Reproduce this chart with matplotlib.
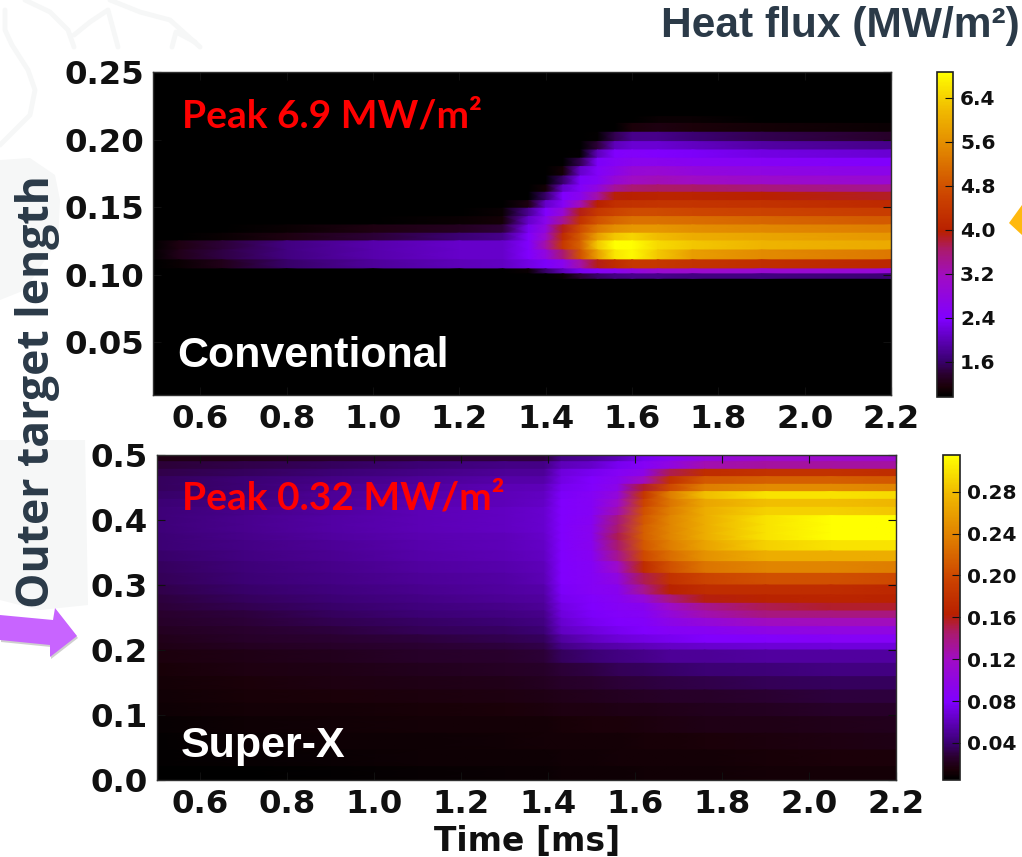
import numpy as np
import matplotlib
matplotlib.use("Agg")
import matplotlib.pyplot as plt
from matplotlib.colors import LinearSegmentedColormap, Normalize
from matplotlib.patches import Polygon

W, H = 1022, 857

# ---------- data ----------
top_times = [.49, .55, .65, .8, 1.0, 1.2, 1.3, 1.36, 1.40, 1.44, 1.48, 1.52, 1.56, 1.60, 1.66, 1.74, 1.9, 2.2]
top_edges = [.217, .212, .2054, .1985, .1923, .1862, .18, .173, .1664, .161, .1548, .1492, .143, .1368,
             .1307, .125, .1183, .111, .1043, .1006, .0974]
top_flux = [
 [.9,.9,.9,.9,.9,.9,.9,.9,.9,.9,.9,.9,.9,.9,1.05,1.03,.9,.9],
 [.9,.9,.9,.9,.9,.9,.9,.9,.9,.9,.9,.9,.95,1.15,1.2,1.15,1.1,1.05],
 [.9,.9,.9,.9,.9,.9,.9,.9,.9,.9,.9,1.0,1.5,1.75,1.75,1.65,1.5,1.35],
 [.9,.9,.9,.9,.9,.9,.9,.9,.9,.9,.9,1.4,2.0,2.15,2.15,2.05,1.9,1.75],
 [.9,.9,.9,.9,.9,.9,.9,.9,.9,.9,1.0,2.0,2.4,2.45,2.4,2.35,2.25,2.15],
 [.9,.9,.9,.9,.9,.9,.9,.9,.9,.9,1.5,2.35,2.5,2.6,2.6,2.55,2.5,2.4],
 [.9,.9,.9,.9,.9,.9,.9,.9,.9,1.1,2.1,2.45,2.65,2.9,2.95,2.85,2.75,2.65],
 [.9,.9,.9,.9,.9,.9,.9,.9,.9,1.6,2.35,2.5,2.9,3.15,3.2,3.15,3.05,2.95],
 [.9,.9,.9,.9,.9,.9,.9,.9,1.1,2.1,2.45,2.8,3.4,3.6,3.65,3.65,3.55,3.45],
 [.9,.9,.9,.9,.9,.9,.9,.9,1.6,2.4,2.6,3.3,3.95,4.0,4.05,4.05,4.0,3.85],
 [.9,.9,.9,.9,.9,.9,.9,1.2,2.1,2.5,3.2,4.0,4.25,4.3,4.35,4.35,4.3,4.15],
 [.9,.9,.9,.9,.9,.9,1.05,1.8,2.4,2.9,3.9,4.4,4.6,4.7,4.7,4.65,4.6,4.5],
 [.9,.9,.9,.9,.9,1.05,1.1,2.1,2.6,3.4,4.3,4.8,5.05,5.2,5.2,5.15,5.05,4.9],
 [.9,.9,.9,1.05,1.2,1.3,1.4,2.3,2.8,3.9,4.7,5.3,5.6,5.7,5.7,5.6,5.5,5.35],
 [.9,.9,1.05,1.2,1.4,1.65,1.75,2.4,3.0,4.2,4.9,5.8,6.3,6.45,6.2,6.0,5.9,5.7],
 [.9,1.2,1.4,1.7,1.95,2.1,2.1,2.4,3.3,4.4,5.0,6.3,6.85,6.9,6.5,6.3,6.1,5.95],
 [1.0,1.25,1.45,1.7,1.95,2.1,2.1,2.4,2.8,3.6,4.8,5.8,6.6,6.8,6.3,5.8,5.55,5.3],
 [.9,1.05,1.25,1.6,1.85,2.0,2.05,2.25,2.35,2.6,3.3,3.9,4.2,4.4,4.4,4.35,4.25,4.1],
 [.9,.9,.9,.9,.9,.9,.9,1.05,1.6,2.0,2.3,2.5,2.6,2.8,3.0,3.05,3.0,2.9],
 [.9,.9,.9,.9,.9,.9,.9,.9,.9,1.05,1.4,1.6,1.7,1.75,1.75,1.7,1.7,1.65],
]
top_ticks_cbar = [1.6, 2.4, 3.2, 4.0, 4.8, 5.6, 6.4]

low_times = [.5, .7, .9, 1.1, 1.3, 1.39, 1.43, 1.5, 1.56, 1.62, 1.68, 1.76, 1.9, 2.05, 2.2]
low_edges = [.5, .4897, .478, .4667, .4549, .4436, .4318, .4195, .4067, .3923, .3795, .3682, .3523, .3359,
             .3179, .3, .2846, .2718, .26, .2487, .2359, .2231, .2103, .2, .1795, .159, .1385, .1179,
             .0974, .0718, .0462, .0205, 0.0]
low_flux = [
 [.018,.02,.024,.028,.03,.03,.045,.05,.06,.075,.09,.105,.115,.115,.115],
 [.028,.032,.035,.04,.045,.045,.06,.065,.075,.085,.10,.125,.13,.13,.13],
 [.032,.036,.04,.045,.05,.05,.07,.075,.085,.095,.15,.175,.18,.18,.175],
 [.036,.04,.045,.05,.055,.055,.072,.08,.09,.12,.18,.21,.215,.215,.21],
 [.036,.04,.048,.052,.058,.06,.075,.082,.095,.155,.2,.235,.245,.245,.24],
 [.038,.042,.05,.055,.06,.062,.078,.085,.105,.185,.235,.28,.3,.3,.295],
 [.04,.044,.05,.057,.06,.064,.08,.085,.115,.195,.23,.265,.28,.28,.275],
 [.042,.046,.052,.058,.062,.066,.08,.085,.125,.205,.235,.27,.29,.29,.285],
 [.042,.048,.054,.058,.062,.066,.08,.088,.14,.21,.24,.27,.30,.315,.315],
 [.042,.048,.054,.058,.062,.066,.08,.09,.145,.215,.24,.27,.30,.318,.318],
 [.04,.046,.052,.057,.06,.065,.08,.09,.15,.215,.24,.27,.30,.318,.318],
 [.04,.045,.05,.056,.06,.064,.08,.09,.145,.21,.235,.262,.29,.3,.3],
 [.038,.044,.049,.055,.058,.062,.08,.088,.135,.20,.225,.25,.27,.27,.27],
 [.036,.042,.047,.053,.056,.06,.08,.085,.115,.175,.205,.23,.24,.24,.235],
 [.034,.04,.045,.05,.054,.058,.08,.085,.10,.15,.18,.195,.205,.205,.2],
 [.032,.038,.043,.048,.052,.055,.078,.085,.09,.135,.165,.175,.175,.175,.17],
 [.03,.035,.04,.045,.05,.053,.075,.082,.088,.105,.14,.16,.165,.168,.165],
 [.028,.033,.038,.043,.047,.05,.072,.08,.085,.09,.115,.135,.15,.155,.155],
 [.026,.03,.035,.04,.044,.047,.07,.078,.083,.087,.105,.125,.14,.14,.14],
 [.024,.028,.033,.037,.04,.044,.066,.075,.08,.083,.095,.105,.12,.122,.122],
 [.022,.026,.03,.034,.037,.04,.062,.07,.076,.08,.085,.088,.097,.10,.10],
 [.02,.024,.027,.03,.033,.036,.052,.062,.068,.072,.076,.08,.082,.085,.085],
 [.018,.022,.024,.027,.03,.032,.045,.052,.056,.06,.064,.066,.068,.07,.07],
 [.016,.019,.021,.024,.026,.028,.035,.04,.044,.047,.05,.05,.052,.053,.053],
 [.014,.017,.019,.021,.023,.025,.028,.031,.034,.036,.038,.04,.042,.044,.044],
 [.012,.015,.017,.019,.02,.022,.024,.026,.028,.03,.031,.032,.034,.036,.036],
 [.011,.014,.015,.016,.017,.018,.02,.021,.022,.023,.024,.025,.027,.029,.03],
 [.01,.012,.013,.014,.015,.016,.017,.017,.018,.019,.02,.021,.022,.024,.025],
 [.008,.01,.011,.012,.013,.013,.014,.015,.015,.016,.017,.018,.019,.02,.021],
 [.007,.009,.01,.01,.011,.012,.012,.013,.013,.014,.014,.015,.016,.017,.018],
 [.006,.008,.009,.01,.01,.01,.011,.011,.012,.012,.012,.013,.014,.015,.015],
 [.002,.004,.007,.008,.009,.009,.01,.01,.01,.011,.011,.011,.012,.012,.013],
]
low_ticks_cbar = [.04, .08, .12, .16, .20, .24, .28]

time_ticks = [.6, .8, 1.0, 1.2, 1.4, 1.6, 1.8, 2.0, 2.2]
top_yticks = [.05, .10, .15, .20, .25]
low_yticks = [0.0, .1, .2, .3, .4, .5]

# ---------- helpers ----------
cmap = LinearSegmentedColormap.from_list("flux", [
    (0.00, "#000000"), (0.03, "#1a0008"), (0.07, "#2a0030"), (0.11, "#3a0070"), (0.24, "#8000ff"),
    (0.37, "#a00cc4"), (0.45, "#aa1a70"), (0.51, "#b82000"), (0.62, "#cc4400"), (0.75, "#e08000"),
    (0.88, "#f0b800"), (1.00, "#ffff00")])

fig = plt.figure(figsize=(W / 100, H / 100), dpi=100, facecolor="white")

def box(x0, y0, x1, y1):
    return [x0 / W, 1 - y1 / H, (x1 - x0) / W, (y1 - y0) / H]

def fx(x): return x / W
def fy(y): return 1 - y / H

# faint watermark
bg = fig.add_axes([0, 0, 1, 1], zorder=-5)
bg.set_xlim(0, W); bg.set_ylim(H, 0); bg.axis("off")
wm = "#f6f7f7"
bg.add_patch(Polygon([(0, 160), (30, 158), (55, 175), (60, 200), (58, 240), (25, 290), (0, 300)], fc=wm, ec="none"))
bg.add_patch(Polygon([(0, 440), (85, 440), (88, 605), (40, 610), (0, 600)], fc=wm, ec="none"))
for pts in ([(5, 10), (5, 30), (12, 45), (28, 70), (35, 90), (30, 115), (0, 145)],
            [(25, 0), (50, 12), (68, 30), (74, 47)],
            [(74, 35), (90, 22), (108, 10), (118, 47)],
            [(110, 0), (140, 12), (170, 20), (200, 47)],
            [(172, 47), (176, 32), (195, 42)]):
    xs, ys = zip(*pts)
    bg.plot(xs, ys, color=wm, lw=3.5, solid_capstyle="round", solid_joinstyle="round")

def panel(pos, cpos, times, edges, flux, vmin, vmax, xlim, ylim, yticks, yfmt, cticks, cfmt):
    ax = fig.add_axes(box(*pos), facecolor="black")
    z = np.repeat(np.array(flux, dtype=float), 2, axis=0)
    e = np.array(edges, dtype=float)
    y = np.column_stack([e[:-1], e[1:]]).ravel()
    X, Y = np.meshgrid(np.array(times, dtype=float), y)
    m = ax.pcolormesh(X, Y, z, shading="gouraud", cmap=cmap, norm=Normalize(vmin, vmax), rasterized=True)
    ax.set_xlim(*xlim); ax.set_ylim(*ylim)
    ax.set_xticks(time_ticks)
    ax.set_xticklabels([f"{t:.1f}" for t in time_ticks])
    ax.set_yticks(yticks)
    ax.set_yticklabels([yfmt.format(t) for t in yticks])
    ax.tick_params(axis="both", direction="in", length=5.5, width=0.8, top=True, right=True,
                   labelsize=23.3, colors="#101010")
    ax.tick_params(axis="x", pad=6.5)
    ax.tick_params(axis="y", pad=6.5)
    for l in ax.get_xticklabels() + ax.get_yticklabels():
        l.set_fontweight("bold")
    for s in ax.spines.values():
        s.set_color("#303030"); s.set_linewidth(1)
    cax = fig.add_axes(box(*cpos))
    cb = fig.colorbar(m, cax=cax, ticks=cticks)
    cb.ax.set_yticklabels([cfmt.format(t) for t in cticks])
    cb.ax.tick_params(direction="in", length=6, width=0.8, labelsize=14.5, pad=5, colors="#101010")
    for l in cb.ax.get_yticklabels():
        l.set_fontweight("bold")
    cb.outline.set_edgecolor("#202020"); cb.outline.set_linewidth(1.2)
    return ax

panel((153, 72, 891, 395), (937, 72, 953, 397), top_times, top_edges, top_flux, .96, 6.87,
      (.49, 2.2), (.011, .25), top_yticks, "{:.2f}", top_ticks_cbar, "{:.1f}")
panel((157, 455, 896, 780), (943, 455, 960, 780), low_times, low_edges, low_flux, .0046, .315,
      (.5, 2.2), (0, .5), low_yticks, "{:.1f}", low_ticks_cbar, "{:.2f}")

# texts
dark = "#2b3a48"
fig.text(fx(1020), fy(26), "Heat flux (MW/m²)", ha="right", va="center", fontsize=30.6,
         fontweight="bold", family="Liberation Sans", color=dark)
fig.text(fx(38), fy(392), "Outer target length", rotation=90, ha="center", va="center", fontsize=32,
         fontweight="bold", family="Open Sans", color=dark)
fig.text(fx(527), fy(841), "Time [ms]", ha="center", va="center", fontsize=23.8, fontweight="bold",
         family="DejaVu Sans", color="#101010")
fig.text(fx(182), fy(116), "Peak 6.9 MW/m²", ha="left", va="center", fontsize=28, fontweight="bold",
         family="Lato", color="#ff0000")
fig.text(fx(182), fy(498), "Peak 0.32 MW/m²", ha="left", va="center", fontsize=28, fontweight="bold",
         family="Lato", color="#ff0000")
fig.text(fx(177), fy(356), "Conventional", ha="left", va="center", fontsize=31, fontweight="bold",
         family="Liberation Sans", color="white")
fig.text(fx(181), fy(746), "Super-X", ha="left", va="center", fontsize=31, fontweight="bold",
         family="Liberation Sans", color="white")

# arrows of the slide
over = fig.add_axes([0, 0, 1, 1], zorder=-1)
over.set_xlim(0, W); over.set_ylim(H, 0); over.axis("off")
purple = [(0, 615), (53, 620), (55, 608), (77, 636), (50, 657), (50, 645), (0, 640)]
over.add_patch(Polygon([(x + 1, y + 2) for x, y in purple], fc="#b0b0b0", ec="none", alpha=.6))
over.add_patch(Polygon(purple, fc="#c864ff", ec="none"))
over.add_patch(Polygon([(1022, 205), (1009, 223), (1022, 235)], fc="#ffb90f", ec="none"))

fig.savefig("out.png", dpi=100)
